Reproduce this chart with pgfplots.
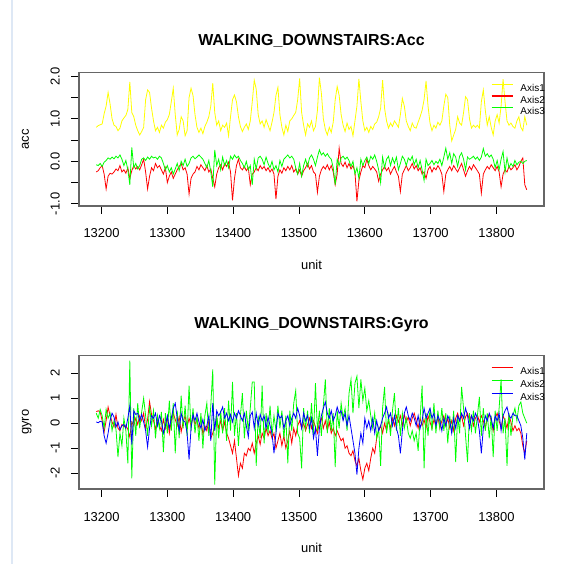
\documentclass[border=0pt]{standalone}
\usepackage{fontspec}
\setmainfont{Liberation Sans}
\usepackage{pgfplots}
\usepackage{pgfplotstable}
\pgfplotsset{compat=1.18}

\definecolor{rYellow}{RGB}{255,255,0}
\definecolor{rRed}{RGB}{255,0,0}
\definecolor{rGreen}{RGB}{0,255,0}
\definecolor{rBlue}{RGB}{0,0,255}
\definecolor{paneEdge}{RGB}{222,232,245}

% accelerometer, WALKING_DOWNSTAIRS: unit, axis 1, axis 2, axis 3
\pgfplotstableread{
x a1 a2 a3
13192 0.80 -0.25 -0.08
13195 0.84 -0.22 -0.10
13198 0.86 -0.15 -0.05
13201 0.88 -0.10 -0.12
13204 1.12 -0.30 -0.02
13207 1.30 -0.65 0.02
13210 1.62 -0.35 0.08
13213 1.35 -0.28 0.05
13216 1.00 -0.30 0.10
13219 0.85 -0.25 0.06
13222 0.82 -0.18 0.12
13225 0.72 -0.22 0.08
13228 0.78 -0.10 0.15
13231 0.95 -0.25 0.05
13234 1.02 -0.20 -0.10
13237 1.08 -0.28 0.02
13240 1.22 -0.15 -0.20
13243 1.87 -0.40 -0.55
13246 1.15 -0.22 0.33
13249 1.05 -0.10 -0.15
13252 0.85 -0.18 -0.05
13255 0.72 -0.12 -0.18
13258 0.62 -0.20 -0.10
13261 0.70 -0.08 0.05
13264 0.80 0.05 0.08
13267 1.45 -0.25 0.02
13270 1.68 -0.65 0.10
13273 1.62 -0.35 0.05
13276 1.25 -0.15 0.12
13279 0.95 -0.22 0.08
13282 0.72 -0.05 0.10
13285 0.80 -0.15 0.05
13288 0.68 -0.10 0.12
13291 0.85 -0.20 0.08
13294 0.78 -0.30 -0.05
13297 0.92 -0.15 -0.20
13300 0.98 -0.50 -0.10
13303 1.10 -0.35 -0.25
13306 1.40 -0.25 -0.15
13309 1.72 -0.40 -0.30
13312 1.10 -0.30 -0.18
13315 0.62 -0.20 -0.05
13318 0.75 -0.12 -0.22
13321 1.05 -0.05 0.00
13324 0.95 -0.20 -0.10
13327 0.60 -0.15 0.05
13330 0.72 -0.30 -0.12
13333 1.50 -0.77 -0.05
13336 1.72 -0.40 0.08
13339 1.55 -0.30 0.12
13342 1.10 -0.25 0.06
13345 0.80 -0.12 0.10
13348 0.68 -0.20 0.15
13351 0.78 -0.08 0.10
13354 0.65 -0.15 0.05
13357 0.82 -0.22 -0.05
13360 0.92 -0.10 -0.15
13363 1.05 -0.25 0.02
13366 1.30 -0.18 -0.25
13369 1.84 -0.40 -0.60
13372 1.15 -0.60 0.27
13375 0.85 -0.30 -0.10
13378 0.95 -0.15 0.05
13381 0.72 -0.08 -0.20
13384 0.85 -0.20 0.10
13387 0.80 -0.05 -0.10
13390 0.90 -0.12 0.02
13393 0.60 -0.02 -0.15
13396 1.05 -0.25 0.12
13399 1.45 -0.92 0.05
13402 1.56 -0.40 0.15
13405 1.40 -0.10 0.08
13408 1.05 0.05 0.12
13411 0.82 -0.15 0.02
13414 0.70 -0.20 -0.05
13417 0.80 -0.12 -0.15
13420 0.88 -0.22 0.00
13423 0.75 -0.15 -0.20
13426 0.95 -0.55 -0.10
13429 1.40 -0.30 -0.55
13432 1.91 -0.25 0.05
13435 1.70 -0.15 -0.18
13438 1.10 -0.22 0.08
13441 0.88 -0.10 0.12
13444 0.95 -0.18 0.05
13447 0.80 -0.12 -0.08
13450 0.98 -0.22 0.10
13453 0.85 -0.15 -0.05
13456 0.72 -0.25 -0.15
13459 0.92 -0.18 0.00
13462 1.15 -0.30 -0.20
13465 1.55 -0.89 -0.10
13468 1.74 -0.35 -0.25
13471 1.10 -0.20 0.02
13474 0.80 -0.28 -0.12
13477 0.62 -0.15 0.05
13480 0.85 -0.22 0.10
13483 0.70 -0.12 0.15
13486 0.95 -0.20 0.08
13489 1.00 -0.10 0.12
13492 1.08 -0.25 0.05
13495 1.15 -0.18 -0.15
13498 1.45 -0.30 -0.30
13501 1.95 -0.20 -0.05
13504 1.15 -0.35 -0.35
13507 0.85 -0.22 -0.10
13510 0.62 -0.15 0.05
13513 0.88 -0.05 -0.12
13516 0.80 -0.18 0.08
13519 0.95 -0.10 0.15
13522 0.72 -0.25 0.05
13525 0.82 -0.30 -0.10
13528 1.20 -0.73 0.10
13531 1.97 -0.35 0.27
13534 1.60 -0.20 0.15
13537 1.00 -0.12 0.20
13540 0.75 -0.18 0.12
13543 0.62 -0.08 0.18
13546 0.80 -0.20 0.10
13549 0.68 -0.10 0.05
13552 0.92 -0.25 -0.15
13555 1.45 -0.55 -0.55
13558 1.76 -0.30 0.05
13561 1.55 0.31 -0.10
13564 1.10 -0.05 0.08
13567 0.85 -0.12 0.12
13570 0.70 -0.02 0.05
13573 0.90 -0.15 0.10
13576 0.75 -0.05 0.02
13579 0.82 -0.18 -0.12
13582 0.60 -0.10 0.00
13585 0.95 -0.25 -0.30
13588 1.30 -0.94 -0.15
13591 1.94 -0.45 -0.40
13594 1.40 -0.25 0.05
13597 0.95 -0.10 -0.10
13600 0.72 -0.15 0.02
13603 0.80 0.05 0.10
13606 0.68 -0.10 -0.05
13609 0.82 -0.20 0.12
13612 0.75 -0.12 0.05
13615 0.88 -0.18 0.15
13618 0.92 -0.25 0.00
13621 1.05 -0.47 -0.20
13624 1.25 -0.30 -0.50
13627 1.91 -0.20 0.10
13630 1.25 -0.12 -0.15
13633 0.95 -0.22 0.05
13636 0.78 -0.15 0.12
13639 0.90 -0.30 -0.10
13642 0.82 -0.20 0.08
13645 0.95 -0.12 -0.05
13648 0.88 -0.25 0.10
13651 0.80 -0.35 -0.20
13654 1.10 -0.71 -0.05
13657 1.48 -0.30 0.12
13660 1.30 -0.20 0.05
13663 0.95 -0.10 -0.10
13666 0.82 -0.22 0.08
13669 0.72 -0.15 0.02
13672 0.90 -0.05 0.12
13675 0.80 -0.18 -0.08
13678 0.78 -0.10 0.05
13681 0.92 -0.22 -0.15
13684 1.05 -0.15 0.02
13687 1.20 -0.30 -0.20
13690 1.45 -0.25 -0.45
13693 1.89 -0.40 0.05
13696 1.30 -0.20 -0.10
13699 0.90 -0.12 -0.05
13702 0.72 -0.25 0.02
13705 0.85 -0.15 -0.08
13708 0.78 -0.20 0.00
13711 0.92 -0.10 -0.05
13714 0.85 -0.18 0.05
13717 0.95 -0.30 -0.10
13720 1.30 -0.71 0.10
13723 1.58 -0.30 0.31
13726 1.50 -0.20 0.05
13729 0.85 -0.12 0.20
13732 0.48 -0.22 -0.05
13735 0.62 -0.10 0.18
13738 0.75 -0.18 0.10
13741 1.05 -0.25 -0.12
13744 0.90 -0.15 0.12
13747 0.85 -0.05 0.20
13750 1.15 -0.20 0.05
13753 1.52 -0.35 -0.20
13756 1.45 -0.22 0.10
13759 1.00 -0.12 0.05
13762 0.78 -0.20 0.08
13765 0.85 -0.08 0.12
13768 0.80 -0.15 0.05
13771 0.85 -0.22 0.10
13774 0.78 -0.30 0.02
13777 1.40 -0.75 0.10
13780 1.68 -0.30 0.30
13783 1.20 -0.20 0.12
13786 0.85 -0.12 0.18
13789 1.05 -0.18 0.10
13792 0.80 -0.08 0.15
13795 0.62 -0.15 0.05
13798 0.95 -0.22 -0.15
13801 1.10 -0.12 0.02
13804 0.90 -0.25 -0.20
13807 1.30 -0.60 0.05
13810 1.93 -0.30 0.23
13813 1.40 -0.20 -0.25
13816 0.95 -0.25 0.08
13819 0.85 -0.12 -0.15
13822 0.90 -0.20 -0.05
13825 0.82 -0.15 -0.12
13828 0.78 -0.08 0.02
13831 0.95 -0.20 -0.08
13834 1.05 -0.12 -0.02
13837 0.80 0.00 0.00
13840 0.72 0.08 -0.05
13843 1.05 -0.55 0.00
13846 0.85 -0.67 0.02
}\acctable

% gyroscope, WALKING_DOWNSTAIRS: unit, axis 1, axis 2, axis 3
\pgfplotstableread{
x g1 g2 g3
13192 0.46 0.40 0.05
13195 0.50 0.20 0.02
13198 0.45 0.55 0.08
13201 0.10 0.30 0.05
13204 -0.35 -0.20 -0.50
13207 0.10 0.55 -0.80
13210 0.65 0.20 -0.40
13213 0.30 0.40 0.10
13216 0.05 -0.30 0.40
13219 -0.15 0.10 0.25
13222 0.35 -0.25 -0.15
13225 -0.20 -1.35 0.05
13228 -0.30 -0.40 -0.25
13231 -0.05 -0.90 -0.10
13234 -0.15 0.20 -0.05
13237 -0.10 -0.30 -0.20
13240 -0.25 -1.60 0.20
13243 -0.55 2.50 0.70
13246 0.05 -2.20 -0.85
13249 -0.10 0.60 0.50
13252 0.20 -0.50 0.35
13255 -0.05 0.80 0.40
13258 0.30 -0.20 0.10
13261 0.10 0.45 0.35
13264 0.40 1.00 0.05
13267 -0.20 0.30 -0.30
13270 0.15 -0.50 -0.95
13273 0.86 0.70 -0.20
13276 0.35 -0.10 0.30
13279 0.10 0.50 0.20
13282 -0.25 -0.60 0.40
13285 0.20 0.30 -0.10
13288 -0.10 -0.20 0.30
13291 -0.30 0.45 0.10
13294 0.15 -1.15 -0.40
13297 -0.20 0.40 -0.10
13300 0.25 -0.40 0.30
13303 -0.40 0.90 -0.20
13306 0.10 -0.30 0.20
13309 0.40 0.80 0.60
13312 0.15 -1.20 0.80
13315 -0.10 0.50 0.20
13318 0.25 -0.60 -0.30
13321 -0.35 1.10 0.40
13324 0.05 -0.20 0.10
13327 0.30 0.70 0.05
13330 -0.15 -0.50 -0.40
13333 0.20 1.50 -1.45
13336 -0.10 -0.30 -0.20
13339 0.30 0.60 0.35
13342 -0.05 -0.40 0.10
13345 0.15 0.30 0.40
13348 -0.20 -0.70 0.05
13351 0.20 0.40 -0.20
13354 -0.45 -1.00 0.15
13357 -0.10 0.30 -0.30
13360 -0.30 0.80 -0.10
13363 0.10 -0.50 0.30
13366 -0.60 0.70 -0.70
13369 -0.40 2.15 0.80
13372 -0.10 -2.45 -0.30
13375 0.20 0.40 0.50
13378 -0.20 -0.60 0.30
13381 0.10 0.50 0.45
13384 -0.30 -0.40 0.65
13387 0.05 0.60 0.20
13390 -0.40 -0.70 0.40
13393 -0.60 0.90 0.10
13396 -0.90 -0.30 0.35
13399 -1.20 1.65 0.05
13402 -0.70 -0.50 0.40
13405 -1.40 0.40 0.20
13408 -2.10 -0.90 0.50
13411 -1.60 0.30 0.30
13414 -1.80 1.20 0.10
13417 -1.20 -0.60 0.40
13420 -1.30 0.50 -0.10
13423 -1.00 -0.30 -0.55
13426 -1.10 0.60 0.30
13429 -0.80 1.65 0.45
13432 -1.20 1.65 -0.20
13435 -0.80 -1.70 0.40
13438 -0.50 0.30 -0.10
13441 -0.85 -0.60 0.35
13444 -0.40 1.50 0.10
13447 -0.60 -0.80 0.30
13450 -0.20 0.40 -0.20
13453 -0.50 -0.40 0.25
13456 -0.30 0.70 -0.10
13459 -0.60 -0.50 -0.40
13462 -0.40 0.30 -1.20
13465 -1.00 -0.30 -0.40
13468 -0.70 0.70 0.40
13471 -0.40 -0.20 0.20
13474 -0.90 0.50 0.30
13477 -0.50 -0.60 -0.20
13480 -1.00 0.30 0.10
13483 -0.70 -1.60 0.30
13486 -0.30 0.50 -0.10
13489 -0.80 -0.30 0.20
13492 -0.20 0.80 0.40
13495 -0.50 1.30 0.20
13498 -0.10 -0.40 0.60
13501 0.10 -0.60 0.30
13504 -0.20 -1.80 -0.20
13507 0.00 0.60 0.40
13510 -0.30 -0.20 0.10
13513 -0.05 0.50 0.30
13516 0.20 -0.40 -0.20
13519 -0.20 0.80 0.20
13522 0.10 -0.50 -0.60
13525 -0.15 1.60 -0.20
13528 -0.40 -0.30 -1.30
13531 0.05 0.50 -0.20
13534 0.20 -0.50 0.30
13537 -0.20 0.70 0.60
13540 0.10 1.75 0.85
13543 -0.30 -0.40 0.40
13546 0.05 0.60 0.20
13549 -0.40 -0.30 0.50
13552 -0.20 0.40 0.10
13555 -0.50 -1.75 0.30
13558 -0.30 0.50 0.65
13561 -0.50 -0.20 0.40
13564 -0.70 0.80 0.50
13567 -0.60 0.20 0.10
13570 -1.00 0.60 0.40
13573 -0.90 -0.30 -0.10
13576 -1.20 1.20 0.30
13579 -1.30 1.75 -0.20
13582 -1.10 0.40 -0.70
13585 -1.50 1.60 -1.20
13588 -1.70 1.88 -2.05
13591 -1.40 0.60 -1.00
13594 -1.90 1.75 -0.40
13597 -2.25 0.90 -0.80
13600 -1.80 1.40 0.20
13603 -1.60 0.50 -0.20
13606 -1.90 0.90 0.10
13609 -1.40 0.30 -0.30
13612 -1.00 -0.20 0.20
13615 -1.20 0.40 -0.40
13618 -0.60 -0.60 0.10
13621 -0.30 -0.20 -0.30
13624 -0.10 -1.70 -0.10
13627 -0.40 0.60 0.20
13630 0.00 1.45 0.40
13633 -0.30 -0.40 0.65
13636 0.10 0.30 0.20
13639 -0.20 -0.50 0.40
13642 0.20 0.50 -0.10
13645 -0.10 1.20 0.30
13648 0.30 -0.30 -0.20
13651 0.05 0.60 -0.50
13654 0.30 -0.50 -1.20
13657 -0.10 0.40 -0.30
13660 0.35 -0.20 0.40
13663 0.05 0.20 0.65
13666 0.25 -0.40 0.30
13669 -0.10 -0.60 0.10
13672 0.20 -0.30 0.40
13675 0.40 -0.70 0.20
13678 0.10 -0.40 -0.10
13681 -0.20 -1.10 0.30
13684 0.20 0.20 -0.20
13687 -0.10 1.50 0.10
13690 0.15 -1.80 0.60
13693 -0.20 0.40 0.20
13696 0.30 -0.50 0.40
13699 0.05 0.60 0.60
13702 -0.20 -0.30 0.20
13705 0.15 0.80 0.40
13708 -0.10 -0.40 -0.10
13711 0.25 0.50 0.30
13714 -0.20 -0.20 0.10
13717 0.10 0.60 -0.30
13720 0.30 -0.30 0.20
13723 -0.10 0.40 -0.10
13726 0.20 -0.80 0.30
13729 -0.20 0.30 0.10
13732 0.10 -0.40 -0.40
13735 -0.30 0.50 0.20
13738 0.20 -1.55 -0.20
13741 0.40 0.30 0.30
13744 0.10 -0.40 0.10
13747 0.30 1.45 0.40
13750 -0.10 0.60 0.20
13753 0.25 -0.50 0.60
13756 0.40 -1.55 0.30
13759 0.10 0.40 -0.20
13762 0.30 -0.30 0.30
13765 -0.10 0.50 0.10
13768 0.20 -0.40 0.40
13771 0.35 0.30 0.20
13774 0.05 1.05 -0.30
13777 0.30 -0.50 -1.20
13780 0.10 0.60 -0.20
13783 -0.20 -0.30 0.30
13786 0.20 0.40 0.10
13789 0.35 -0.60 0.40
13792 0.10 0.30 0.20
13795 -0.30 -1.35 -0.20
13798 0.20 0.50 0.30
13801 0.40 -0.30 0.10
13804 0.10 0.60 0.40
13807 -0.20 1.75 -0.30
13810 0.30 -0.40 0.30
13813 0.10 0.20 0.50
13816 -0.20 -1.70 0.65
13819 0.30 0.40 0.30
13822 0.05 -0.50 0.20
13825 -0.30 0.30 0.40
13828 -0.10 0.60 0.30
13831 -0.30 0.10 0.30
13834 -0.20 0.70 0.10
13837 -0.40 0.85 -0.10
13840 -0.90 0.40 -0.60
13843 -1.20 0.20 -1.45
13846 -0.70 0.00 -0.40
}\gyrotable

% short legend strokes, as in base R graphics
\pgfplotsset{
  legend image code/.code={\draw[#1, line width=1.5bp] (0bp,3.5bp) -- (21bp,3.5bp);},
}

\pgfplotsset{
  rpanel/.style={
    scale only axis,
    width=465bp, height=133.3bp,
    xmin=13165.8, xmax=13872.2,
    scaled x ticks=false, scaled y ticks=false,
    axis line style={black!60, line width=1.1bp},
    tick align=outside,
    major tick length=8bp,
    every tick/.style={black, line width=0.9bp},
    xtick pos=left, ytick pos=left,
    xtick={13200,13300,13400,13500,13600,13700,13800},
    xticklabels={13200,13300,13400,13500,13600,13700,13800},
    tick label style={font=\fontsize{13}{13}\selectfont, inner sep=0pt},
    xticklabel style={anchor=base, yshift=-24bp},
    yticklabel style={xshift=-11.5bp, rotate=90, anchor=base},
    title style={at={(axis description cs:0.5,1.1575)}, anchor=base,
      font=\bfseries\fontsize{16}{16}\selectfont, inner sep=0pt},
    xlabel style={at={(axis description cs:0.5,-0.48)}, anchor=base,
      font=\fontsize{13}{13}\selectfont, inner sep=0pt},
    ylabel style={at={(axis description cs:-0.108,0.5)}, anchor=base,
      font=\fontsize{13}{13}\selectfont, inner sep=0pt},
    legend style={draw=none, fill=none, at={(axis description cs:1,1)},
      anchor=north east, xshift=1bp, yshift=-11bp, inner sep=0pt,
      font=\fontsize{10}{10}\selectfont, row sep=3.5bp, column sep=7bp,
      nodes={inner sep=0pt, text height=7.2bp, text depth=0bp}},
    legend cell align=left,
    every axis plot/.append style={line width=0.8bp},
  }
}

\begin{document}
\begin{tikzpicture}[x=1bp, y=1bp]
  \path[fill=white] (0,0) rectangle (566,564);
  \fill[paneEdge] (11,0) rectangle (13,564);

  \begin{axis}[rpanel,
      at={(79bp,358bp)}, anchor=south west,
      ymin=-1.05, ymax=2.085,
      ytick={-1,-0.5,0,0.5,1,1.5,2},
      yticklabels={-1.0,,0.0,,1.0,,2.0},
      title={WALKING\_DOWNSTAIRS:Acc},
      xlabel={unit}, ylabel={acc}]
    \addplot[color=rYellow] table[x=x, y=a1] {\acctable};
    \addplot[color=rRed] table[x=x, y=a2] {\acctable};
    \addplot[color=rGreen] table[x=x, y=a3] {\acctable};
    \legend{Axis1, Axis2, Axis3}
  \end{axis}

  \begin{axis}[rpanel,
      at={(79bp,75bp)}, anchor=south west,
      ymin=-2.63, ymax=2.70,
      ytick={-2,-1,0,1,2},
      yticklabels={-2,-1,0,1,2},
      title={WALKING\_DOWNSTAIRS:Gyro},
      xlabel={unit}, ylabel={gyro},
      legend style={row sep=5bp}]
    \addplot[color=rRed] table[x=x, y=g1] {\gyrotable};
    \addplot[color=rGreen] table[x=x, y=g2] {\gyrotable};
    \addplot[color=rBlue] table[x=x, y=g3] {\gyrotable};
    \legend{Axis1, Axis2, Axis3}
  \end{axis}
\end{tikzpicture}
\end{document}
